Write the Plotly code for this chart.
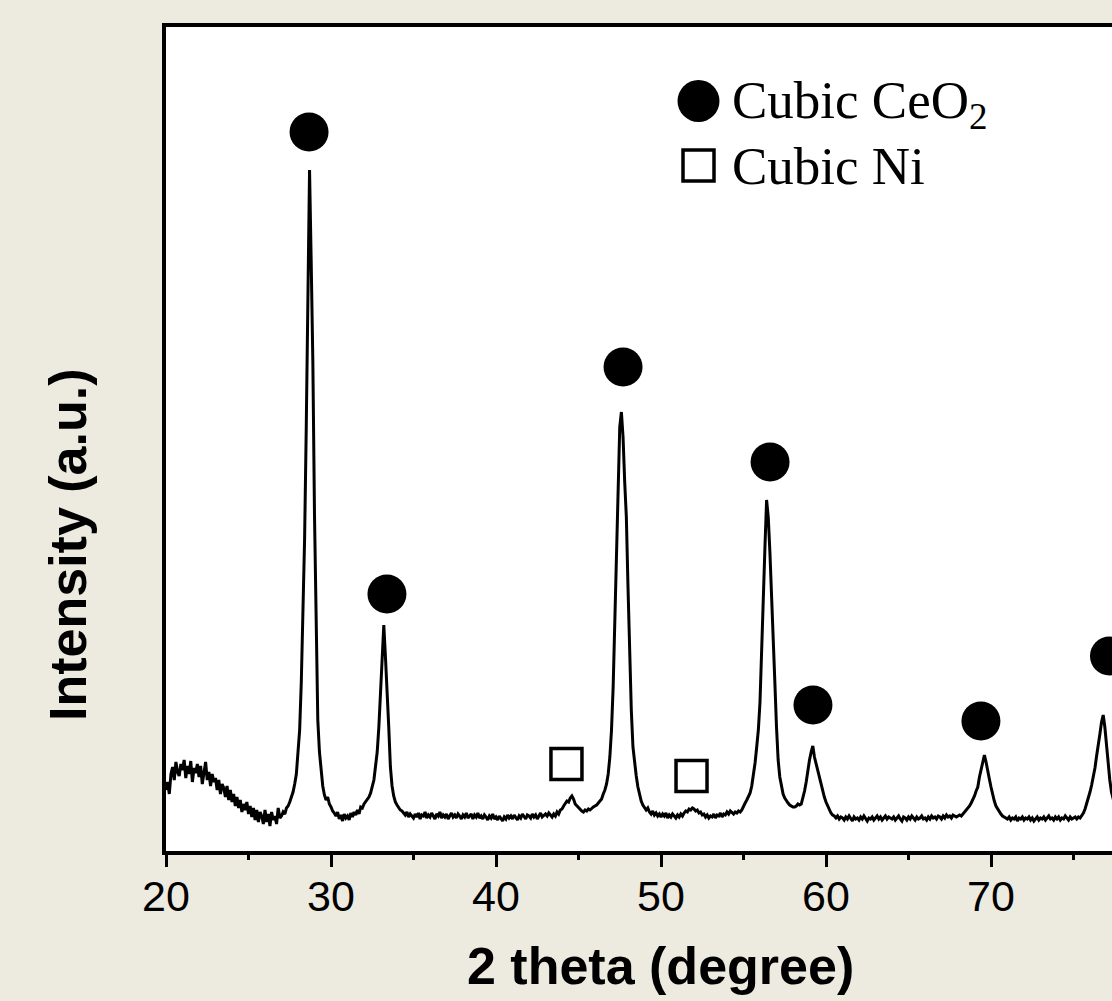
import plotly.graph_objects as go

# ---------------- data ----------------
two_theta_start = 20.0
two_theta_step = 0.1
intensity = [
    62, 70, 58, 78, 85, 72, 90, 80, 76, 88,          # 20
    82, 92, 74, 86, 78, 91, 70, 84, 79, 88,          # 21
    75, 86, 68, 82, 90, 72, 80, 66, 78, 70,          # 22
    74, 62, 72, 58, 68, 64, 55, 66, 52, 62,          # 23
    50, 58, 46, 55, 44, 52, 40, 48, 42, 50,          # 24
    38, 46, 35, 44, 32, 42, 30, 40, 36, 28,          # 25
    42, 30, 38, 26, 40, 32, 36, 28, 44, 34,          # 26
    36, 40, 38, 44, 46, 50, 55, 60, 68, 78,          # 27
    100, 122, 170, 229, 313, 424, 560, 682, 590, 490,  # 28
    337, 216, 132, 100, 79, 66, 57, 52, 55, 48,      # 29
    45, 41, 39, 36, 40, 33, 37, 31, 38, 34,          # 30
    36, 32, 39, 35, 40, 37, 42, 38, 45, 44,          # 31
    48, 50, 53, 55, 59, 66, 72, 86, 100, 125,        # 32
    160, 205, 227, 195, 165, 125, 85, 66, 56, 50,    # 33
    47, 44, 42, 41, 39, 37, 40, 35, 38, 36,          # 34
    34, 38, 35, 39, 33, 37, 36, 40, 34, 37,          # 35
    35, 39, 36, 33, 38, 36, 40, 34, 37, 35,          # 36
    38, 33, 36, 39, 35, 37, 34, 38, 36, 33,          # 37
    37, 35, 39, 34, 36, 38, 33, 37, 35, 39,          # 38
    34, 36, 33, 37, 35, 32, 36, 34, 38, 33,          # 39
    35, 32, 36, 34, 31, 35, 33, 37, 34, 36,          # 40
    33, 37, 35, 32, 36, 34, 38, 35, 33, 37,          # 41
    36, 34, 38, 35, 37, 33, 36, 39, 35, 37,          # 42
    38, 36, 39, 37, 35, 38, 36, 40, 38, 42,          # 43
    43, 46, 48, 51, 50, 54, 56, 53, 48, 46,          # 44
    44, 42, 41, 40, 42, 41, 43, 42, 44, 45,          # 45
    46, 47, 49, 51, 53, 58, 62, 68, 78, 95,          # 46
    122, 165, 235, 295, 380, 425, 440, 415, 370, 335,  # 47
    265, 188, 142, 105, 88, 76, 65, 57, 51, 47,      # 48
    45, 42, 44, 40, 38, 41, 37, 39, 36, 38,          # 49
    35, 38, 36, 39, 34, 37, 35, 38, 36, 34,          # 50
    37, 35, 38, 36, 39, 41, 40, 43, 42, 44,          # 51
    43, 41, 42, 39, 40, 37, 38, 35, 37, 34,          # 52
    36, 35, 38, 34, 37, 36, 39, 35, 38, 37,          # 53
    40, 38, 41, 39, 38, 40, 39, 41, 40, 42,          # 54
    46, 49, 52, 55, 59, 66, 76, 89, 105, 122,        # 55
    150, 195, 245, 305, 352, 335, 300, 260, 228, 170,  # 56
    125, 92, 75, 65, 58, 54, 51, 49, 47, 46,         # 57
    45, 45, 46, 48, 47, 48, 54, 61, 70, 82,          # 58
    92, 100, 106, 95, 88, 83, 74, 66, 60, 55,        # 59
    50, 46, 42, 39, 37, 36, 34, 36, 33, 35,          # 60
    34, 32, 35, 33, 36, 34, 31, 35, 33, 34,          # 61
    32, 35, 33, 36, 34, 31, 34, 33, 35, 32,          # 62
    34, 36, 33, 35, 32, 34, 36, 33, 35, 34,          # 63
    33, 35, 32, 34, 36, 33, 31, 35, 34, 32,          # 64
    35, 33, 36, 34, 32, 35, 33, 34, 36, 33,          # 65
    34, 32, 35, 33, 36, 34, 35, 33, 36, 35,          # 66
    33, 36, 34, 37, 35, 36, 34, 37, 36, 35,          # 67
    36, 37, 36, 38, 39, 41, 43, 46, 49, 52,          # 68
    56, 61, 65, 75, 83, 92, 97, 90, 83, 73,          # 69
    65, 57, 51, 46, 43, 41, 38, 36, 35, 34,          # 70
    33, 35, 32, 34, 33, 35, 31, 34, 33, 35,          # 71
    32, 34, 33, 35, 32, 34, 31, 33, 35, 32,          # 72
    34, 33, 35, 32, 34, 36, 33, 34, 32, 35,          # 73
    33, 35, 32, 34, 33, 36, 34, 32, 35, 33,          # 74
    34, 35, 33, 35, 34, 36, 39, 43, 48, 53,          # 75
    60, 67, 75, 84, 96, 110, 118, 130, 137, 125,     # 76
    108, 85, 72, 60, 52, 47, 43, 40, 38, 37,         # 77
    36,                                              # 78
]
two_theta = [round(two_theta_start + i * two_theta_step, 2) for i in range(len(intensity))]

# phase markers above the reflections
ceo2_peak_2theta = [28.67, 33.39, 47.70, 56.61, 59.21, 69.39, 77.18]
ceo2_marker_y = [720, 258, 485, 390, 147, 131, 196]
ni_peak_2theta = [44.27, 51.85]
ni_marker_y = [88, 76]

x_tick_vals = [20, 30, 40, 50, 60, 70, 80]
x_tick_text = ["20", "30", "40", "50", "60", "70", "80"]
legend_labels = ["Cubic CeO<sub>2</sub>", "Cubic Ni"]
x_title = "2 theta (degree)"
y_title = "Intensity (a.u.)"

# ---------------- layout geometry ----------------
FIG_W, FIG_H = 1112, 1001
L, T, BOTTOM = 166, 27, 851
PW, PH = FIG_W - L, BOTTOM - T
PX_PER_DEG = 16.5

def pxx(p):
    return (p - L) / PW

def pxy(p):
    return (BOTTOM - p) / PH

SANS = "Liberation Sans, Arial, sans-serif"
SERIF = "Liberation Serif, Times New Roman, serif"
BG = "#EDEAE0"

fig = go.Figure()
fig.add_trace(go.Scatter(
    x=two_theta, y=intensity, mode="lines",
    line=dict(color="black", width=3), showlegend=False, hoverinfo="skip",
))
fig.add_trace(go.Scatter(
    x=ceo2_peak_2theta, y=ceo2_marker_y, mode="markers",
    marker=dict(symbol="circle", size=39, color="black", line=dict(width=0)),
    showlegend=False, hoverinfo="skip",
))
fig.add_trace(go.Scatter(
    x=ni_peak_2theta, y=ni_marker_y, mode="markers",
    marker=dict(symbol="square", size=31, color="white", line=dict(color="black", width=3.5)),
    showlegend=False, hoverinfo="skip",
))

# legend drawn as shapes + text
fig.add_shape(type="circle", xref="paper", yref="paper",
              x0=pxx(677.5), x1=pxx(719.5), y0=pxy(122), y1=pxy(80),
              fillcolor="black", line=dict(width=0))
fig.add_shape(type="rect", xref="paper", yref="paper",
              x0=pxx(683), x1=pxx(714), y0=pxy(181), y1=pxy(150),
              fillcolor="white", line=dict(color="black", width=3.5))
fig.add_annotation(xref="paper", yref="paper", x=pxx(730), y=pxy(104),
                   xanchor="left", yanchor="middle", showarrow=False,
                   text=legend_labels[0], font=dict(family=SERIF, size=53, color="black"))
fig.add_annotation(xref="paper", yref="paper", x=pxx(730), y=pxy(166),
                   xanchor="left", yanchor="middle", showarrow=False,
                   text=legend_labels[1], font=dict(family=SERIF, size=53, color="black"))

# axis titles
fig.add_annotation(xref="paper", yref="paper", x=pxx(660), y=pxy(966),
                   xanchor="center", yanchor="middle", showarrow=False,
                   text="<b>" + x_title + "</b>", font=dict(family=SANS, size=52, color="black"))
fig.add_annotation(xref="paper", yref="paper", x=pxx(68), y=pxy(545),
                   xanchor="center", yanchor="middle", showarrow=False, textangle=-90,
                   text="<b>" + y_title + "</b>", font=dict(family=SANS, size=52, color="black"))

fig.update_layout(
    width=FIG_W, height=FIG_H,
    margin=dict(l=L, r=0, t=T, b=FIG_H - BOTTOM, pad=0),
    paper_bgcolor=BG, plot_bgcolor="white",
    showlegend=False,
    xaxis=dict(
        range=[20, 20 + PW / PX_PER_DEG],
        tickvals=x_tick_vals, ticktext=x_tick_text,
        ticks="outside", ticklen=12, tickwidth=3, tickcolor="black",
        ticklabelstandoff=-8,
        minor=dict(dtick=5, tick0=0, ticks="outside", ticklen=5, tickwidth=2.5, tickcolor="black"),
        showline=True, linewidth=4, linecolor="black", mirror=True,
        showgrid=False, zeroline=False,
        tickfont=dict(family=SANS, size=43, color="black"),
    ),
    yaxis=dict(
        range=[1, 1 + PH],
        showticklabels=False, ticks="",
        showline=True, linewidth=4, linecolor="black", mirror=False,
        showgrid=False, zeroline=False,
    ),
)

fig.write_html("out.html", config={"displayModeBar": False})
